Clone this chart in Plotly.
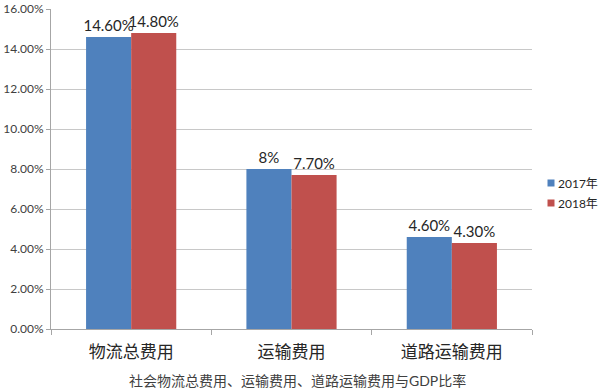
import plotly.graph_objects as go

categories = ["物流总费用", "运输费用", "道路运输费用"]
series_names = ["2017年", "2018年"]
values_2017 = [0.146, 0.08, 0.046]
values_2018 = [0.148, 0.077, 0.043]
labels_2017 = ["14.60%", "8%", "4.60%"]
labels_2018 = ["14.80%", "7.70%", "4.30%"]
y_ticks = [0, 0.02, 0.04, 0.06, 0.08, 0.10, 0.12, 0.14, 0.16]
caption = "社会物流总费用、运输费用、道路运输费用与GDP比率"

colors = ["#4F81BD", "#C0504D"]
FONT = "Lato, 'Noto Sans CJK SC', sans-serif"
xpos = list(range(len(categories)))

W, H = 600, 391
ML, MR, MT, MB = 51, 68, 9, 62
PW, PH = W - ML - MR, H - MT - MB


def px_x(px):
    return (px - ML) / PW


def px_y(py):
    return (H - MB - py) / PH


fig = go.Figure()
for name, vals, labs, col in [
    (series_names[0], values_2017, labels_2017, colors[0]),
    (series_names[1], values_2018, labels_2018, colors[1]),
]:
    fig.add_trace(go.Bar(
        x=xpos, y=vals, name=name, marker_color=col, marker_line_width=0,
        text=labs, textposition="outside", cliponaxis=False,
        textfont=dict(size=15, color="#262626", family=FONT),
        showlegend=False, constraintext="none", hoverinfo="skip",
    ))

# custom legend (square swatch + label) placed in the right margin
shapes = []
annotations = []
legend_rows_px = [183, 203]
for name, col, ry in zip(series_names, colors, legend_rows_px):
    shapes.append(dict(
        type="rect", xref="paper", yref="paper",
        x0=px_x(547.5), x1=px_x(554.5), y0=px_y(ry + 3.5), y1=px_y(ry - 3.5),
        fillcolor=col, line=dict(width=0),
    ))
    annotations.append(dict(
        text=name, xref="paper", yref="paper", x=px_x(556), y=px_y(ry),
        xanchor="left", yanchor="middle", showarrow=False,
        font=dict(size=12, color="#262626", family=FONT),
    ))

annotations.append(dict(
    text=caption, xref="paper", yref="paper", x=px_x(297), y=px_y(380),
    xanchor="center", yanchor="middle", showarrow=False,
    font=dict(size=14, color="#404040", family=FONT),
))

fig.update_layout(
    width=W, height=H,
    margin=dict(l=ML, r=MR, t=MT, b=MB, autoexpand=False),
    paper_bgcolor="white", plot_bgcolor="white",
    barmode="group", bargap=0.4375, bargroupgap=0,
    showlegend=False,
    font=dict(family=FONT, color="#404040"),
    xaxis=dict(
        range=[-0.5, len(categories) - 0.5], tickvals=xpos, ticktext=categories,
        ticks="", showgrid=False, zeroline=False, automargin=False,
        showline=True, linecolor="#a6a6a6", linewidth=1, ticklabelstandoff=8,
        tickfont=dict(size=17, color="#262626", family=FONT),
        minor=dict(tickvals=[i - 0.5 for i in range(len(categories) + 1)],
                   ticks="outside", ticklen=5, tickcolor="#a6a6a6", showgrid=False),
    ),
    yaxis=dict(
        range=[0, 0.16], tickvals=y_ticks, tickformat=".2%",
        showgrid=True, gridcolor="#c8c8c8", gridwidth=1, automargin=False,
        zeroline=False, showline=True, linecolor="#a6a6a6", linewidth=1,
        ticks="outside", ticklen=4, tickcolor="#a6a6a6",
        tickfont=dict(size=12, color="#404040", family=FONT),
    ),
    shapes=shapes,
    annotations=annotations,
)

fig.write_html(
    "out.html",
    config={"displayModeBar": False},
    post_script="document.body.style.margin='0';document.body.style.padding='0';",
)
